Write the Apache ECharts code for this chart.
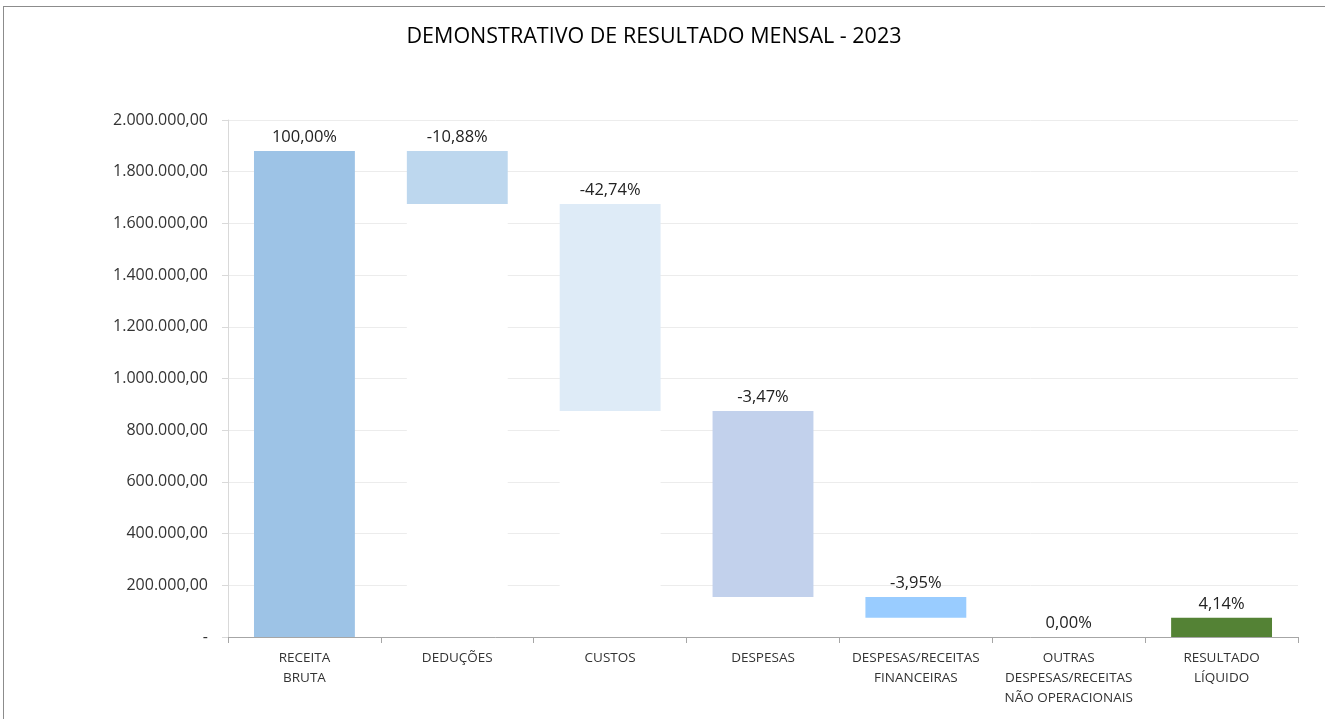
<!DOCTYPE html>
<html>
<head>
<meta charset="utf-8">
<script src="https://cdn.jsdelivr.net/npm/echarts@6/dist/echarts.min.js"></script>
<style>
  html, body { margin: 0; padding: 0; background: #fff; overflow: hidden; }
  #chart { width: 1325px; height: 719px; position: relative; }
  #frame { position: absolute; left: 3px; top: 6px; width: 1400px; height: 800px;
           border-left: 1px solid #8c8c8c; border-top: 1px solid #8c8c8c; pointer-events: none; }
</style>
</head>
<body>
<div id="chart"></div>
<div id="frame"></div>
<script>
var categories = ['RECEITA\nBRUTA', 'DEDUÇÕES', 'CUSTOS', 'DESPESAS',
  'DESPESAS/RECEITAS\nFINANCEIRAS', 'OUTRAS\nDESPESAS/RECEITAS\nNÃO OPERACIONAIS', 'RESULTADO\nLÍQUIDO'];
// invisible base of each floating bar
var baseValues = [0, 1675000, 874000, 155000, 74000, 0, 0];
// visible part of each bar
var barValues = [1880000, 205000, 801000, 719000, 81000, 0, 74000];
var pctLabels = ['100,00%', '-10,88%', '-42,74%', '-3,47%', '-3,95%', '0,00%', '4,14%'];
var barColors = ['#9DC3E6', '#BDD7EE', '#DEEBF7', '#C2D1EC', '#99CCFF', '#C5D9F1', '#548235'];

var font = 'Open Sans';

var chartDom = document.getElementById('chart');
var myChart = echarts.init(chartDom);
var option;

option = {
    backgroundColor: '#fff',
    animation: false,
    textStyle: { fontFamily: font },
    title: {
        text: 'DEMONSTRATIVO DE RESULTADO MENSAL - 2023',
        left: 649,
        textAlign: 'center',
        top: 21,
        textStyle: { fontFamily: font, fontSize: 21.5, fontWeight: 'normal', color: '#000' }
    },
    grid: { left: 228, right: 27, top: 120, bottom: 82, containLabel: false },
    xAxis: {
        type: 'category',
        data: categories,
        axisLine: { lineStyle: { color: '#a6a6a6' } },
        axisTick: { show: true, length: 6, lineStyle: { color: '#a6a6a6' } },
        axisLabel: { color: '#333', fontSize: 13.5, lineHeight: 20, margin: 11, interval: 0 }
    },
    yAxis: {
        type: 'value',
        min: 0,
        max: 2000000,
        interval: 200000,
        axisLine: { show: true, lineStyle: { color: '#d9d9d9' } },
        axisTick: { show: true, length: 6, lineStyle: { color: '#d9d9d9' } },
        splitLine: { lineStyle: { color: '#ececec' } },
        axisLabel: {
            color: '#333', fontSize: 16, margin: 20,
            formatter: function (v) {
                if (v === 0) return '-';
                return v.toLocaleString('pt-BR', { minimumFractionDigits: 2, maximumFractionDigits: 2 });
            }
        }
    },
    series: [
        {
            name: 'base',
            type: 'bar',
            stack: 'dre',
            barCategoryGap: '34%',
            itemStyle: { color: '#fff' },
            emphasis: { disabled: true },
            data: baseValues
        },
        {
            name: 'valor',
            type: 'bar',
            stack: 'dre',
            barCategoryGap: '34%',
            data: barValues.map(function (v, i) {
                return { value: v, itemStyle: { color: barColors[i] } };
            }),
            label: {
                show: true,
                position: 'top',
                distance: 5,
                color: '#222',
                fontSize: 16.5,
                formatter: function (p) { return pctLabels[p.dataIndex]; }
            }
        }
    ]
};

option && myChart.setOption(option);
</script>
</body>
</html>
